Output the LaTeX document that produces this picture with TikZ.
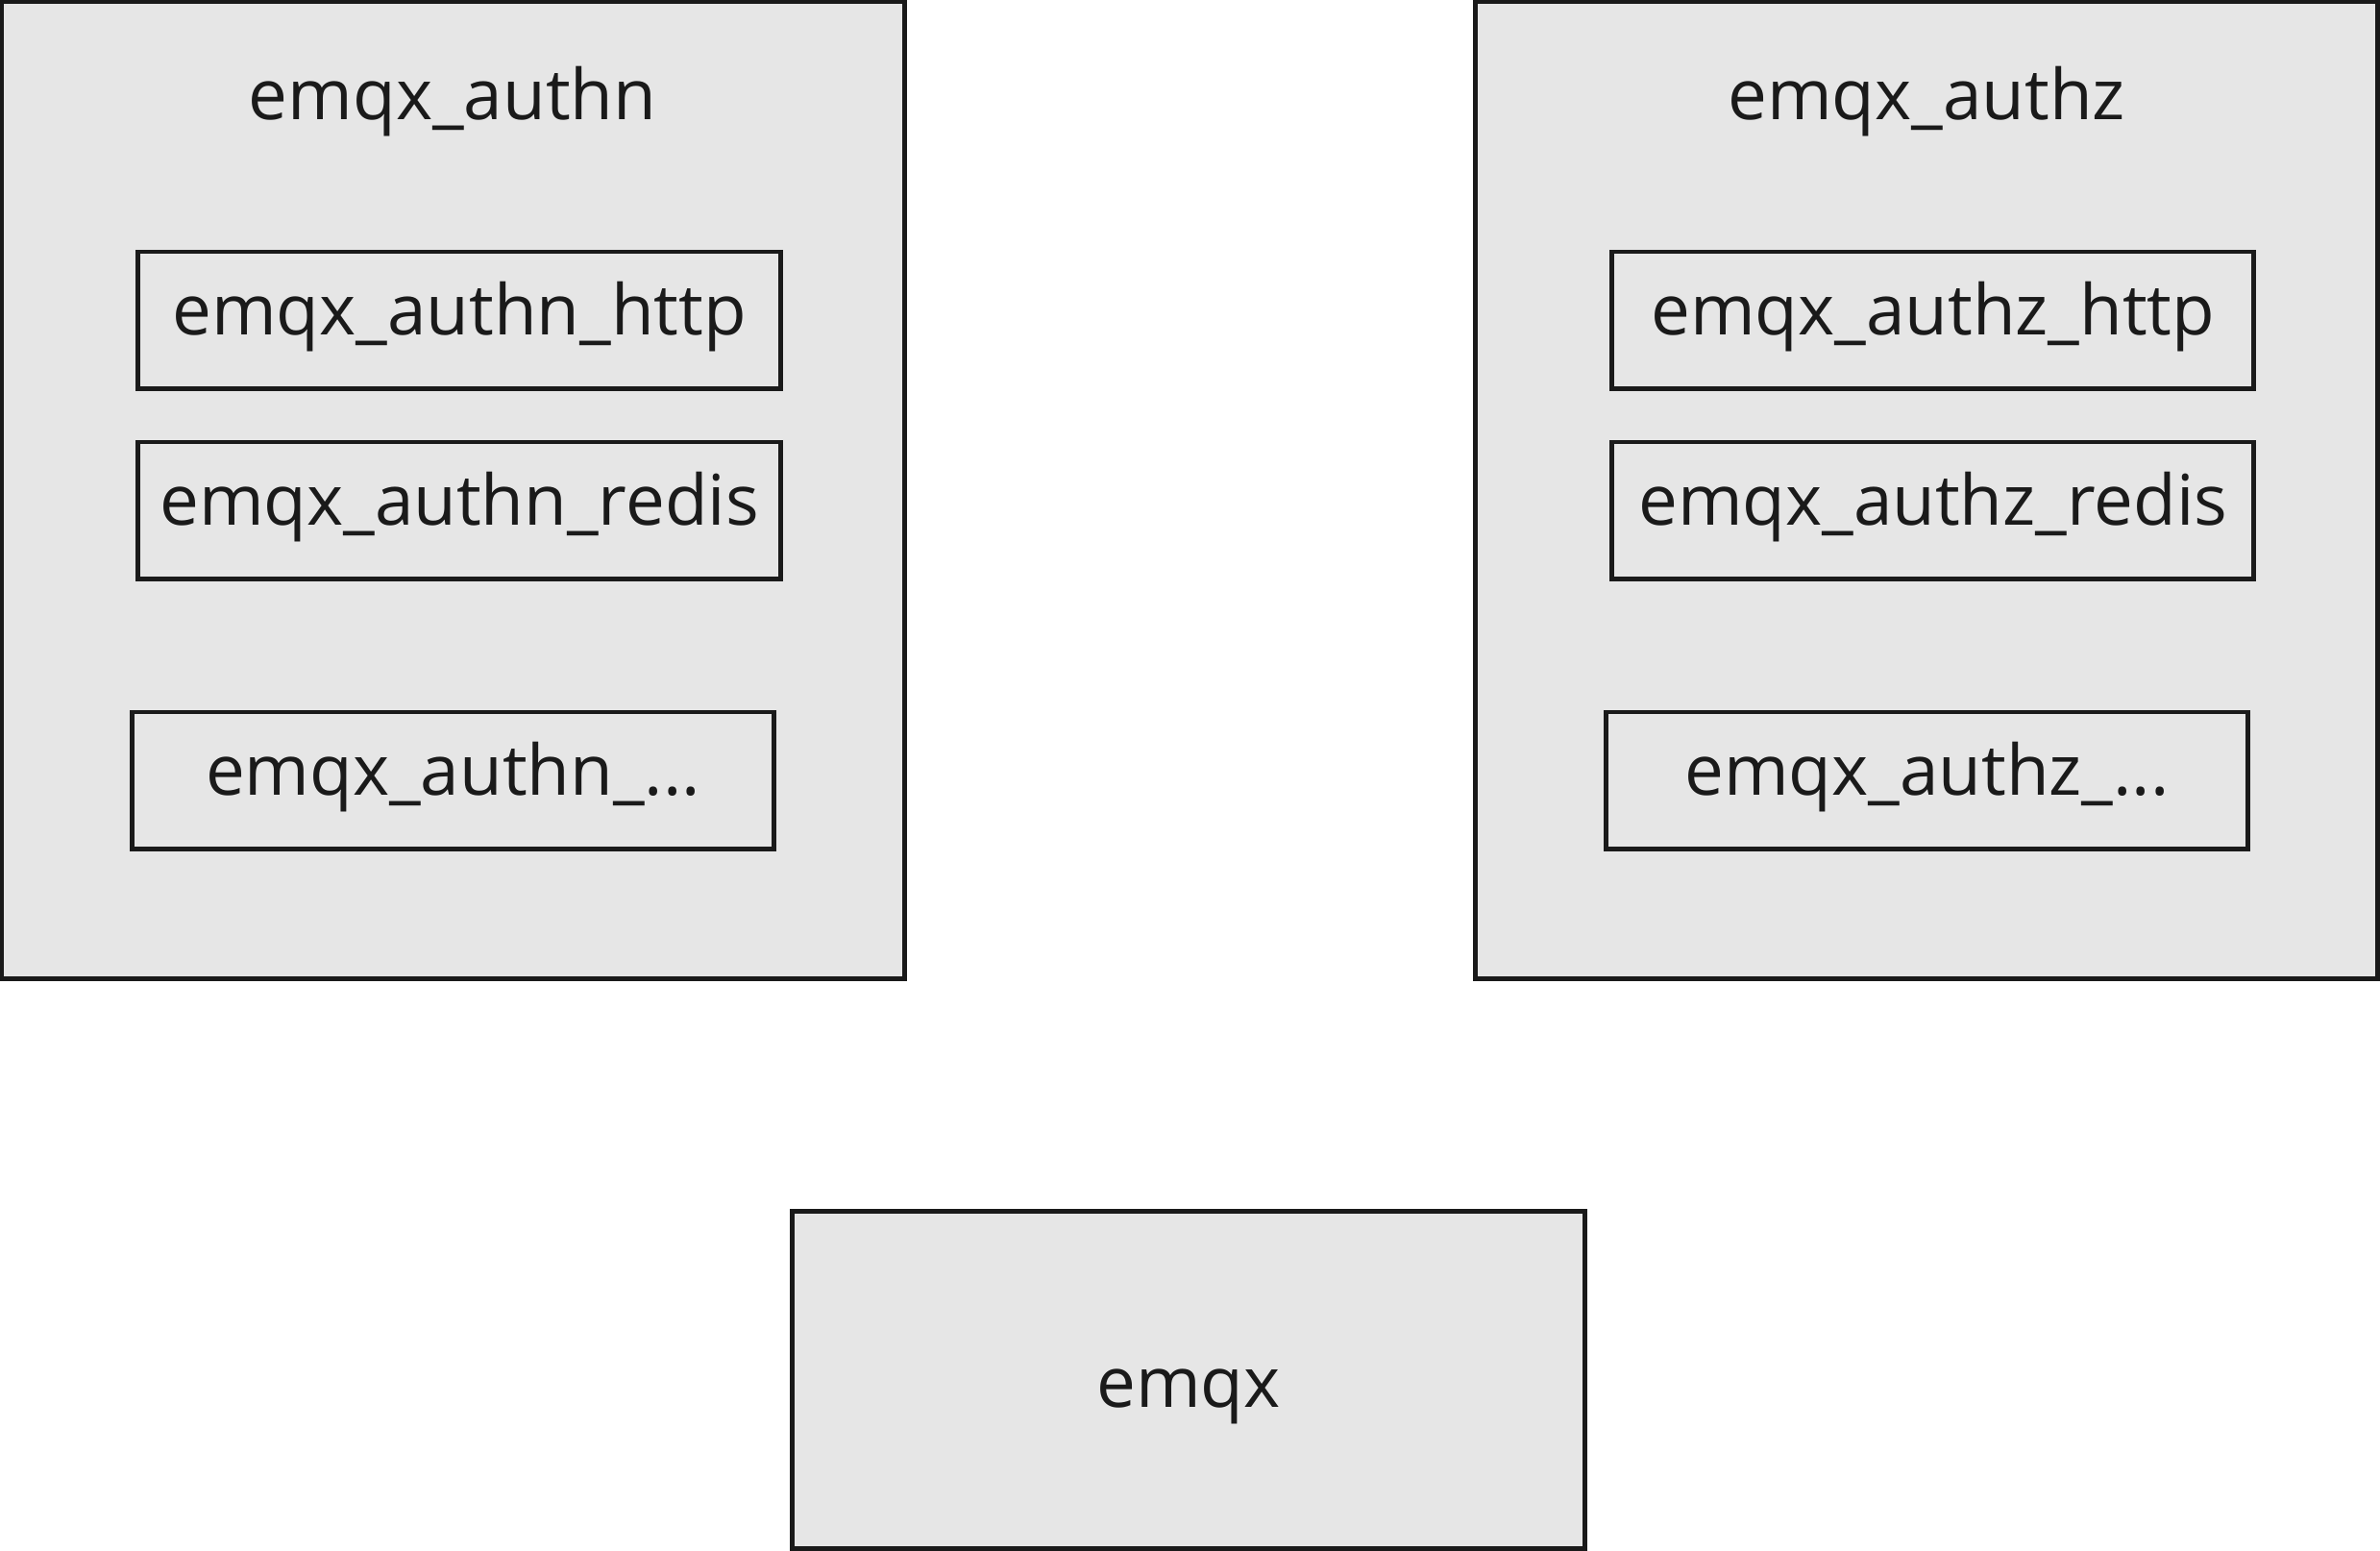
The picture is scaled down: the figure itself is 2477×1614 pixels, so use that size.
\documentclass[tikz,border=0pt]{standalone}
\usepackage{fontspec}
\setmainfont{Open Sans}
\definecolor{boxfill}{HTML}{E6E6E6}
\definecolor{ink}{HTML}{1A1A1A}
\begin{document}
\begin{tikzpicture}[x=0.01cm,y=-0.01cm,
  container/.style={draw=ink,fill=boxfill,line width=1.4pt,inner sep=0pt},
  module/.style={draw=ink,line width=1.4pt,inner sep=0pt,text=ink,font=\fontsize{20.7}{24}\selectfont,text height=15pt,text depth=6.4pt,minimum width=6.68cm,minimum height=1.42cm},
  title/.style={text=ink,font=\fontsize{20.7}{24}\selectfont,inner sep=0pt}]
\useasboundingbox (0,0) rectangle (2477,1614);
\node[container,minimum width=9.39cm,minimum height=10.16cm] (authn) at (471.5,510) {};
\node[container,minimum width=9.39cm,minimum height=10.16cm] (authz) at (2005,510) {};
\node[title] (authnT) at (471,106) {emqx\_authn};
\node[title] (authzT) at (2005,106) {emqx\_authz};
\node[module] (nhttp) at (478,333) {emqx\_authn\_http};
\node[module] (nredis) at (478,531) {emqx\_authn\_redis};
\node[module] (ndots) at (471.5,812) {emqx\_authn\_...};
\node[module] (zhttp) at (2011.7,333) {emqx\_authz\_http};
\node[module] (zredis) at (2011.7,531) {emqx\_authz\_redis};
\node[module] (zdots) at (2005.4,812) {emqx\_authz\_...};
\node[container,minimum width=8.25cm,minimum height=3.5cm] (emqx) at (1237,1436) {};
\node[title] (emqxT) at (1237,1453) {emqx};
\end{tikzpicture}
\end{document}
